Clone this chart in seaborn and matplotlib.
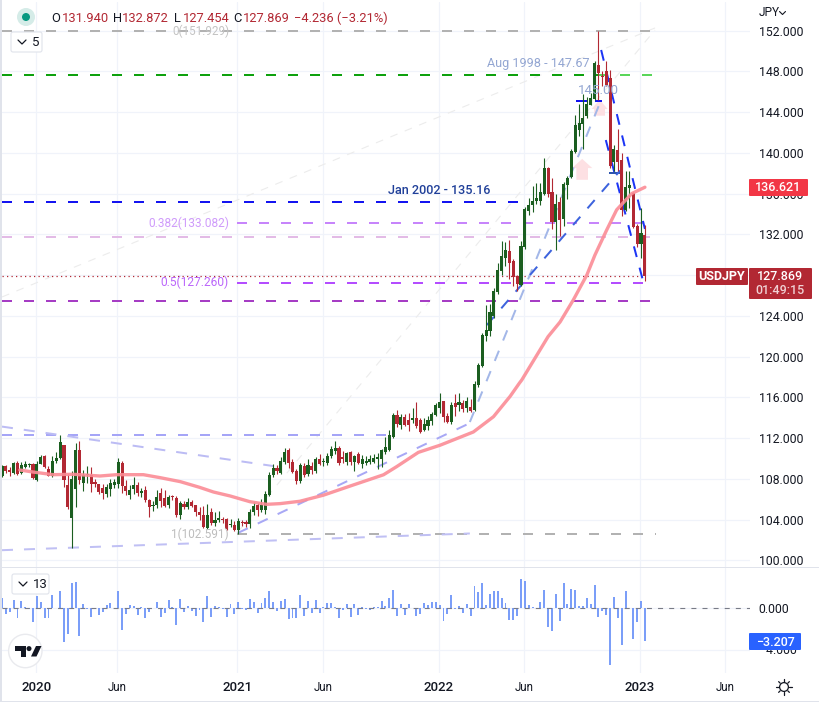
import matplotlib
matplotlib.use("Agg")
import matplotlib.pyplot as plt
from matplotlib.patches import Circle, FancyBboxPatch, Rectangle, Polygon
import numpy as np
import seaborn as sns

sns.set_theme(style="white")
plt.rcParams["font.family"] = ["Roboto", "DejaVu Sans"]

# ---- weekly USDJPY candles ----
opens = [
108.3,109.3,108.9,108.6,109.6,108.6,109.2,109.4,109.5,107.9,
109.5,110.2,109.0,108.3,109.8,110.0,111.3,107.4,104.2,107.0,
110.8,107.6,108.4,108.4,107.7,107.5,107.1,106.5,107.0,107.4,
107.5,109.6,107.3,106.4,107.0,107.4,106.6,106.9,105.9,105.3,
105.4,106.65,106.15,105.4,106.3,106.1,104.5,105.5,105.2,105.7,
105.4,104.7,104.5,103.2,104.7,103.7,104.0,104.1,104.1,103.5,
103.5,103.0,103.8,103.8,103.6,104.7,105.4,104.9,104.9,106.4,
108.4,109.1,108.6,109.7,110.8,109.7,108.8,107.8,109.3,108.5,
109.3,108.8,109.9,109.7,109.6,110.2,110.7,111.0,110.1,109.7,
110.6,109.7,110.4,109.5,109.6,109.7,109.7,109.9,109.9,110.6,
110.8,112.1,114.3,113.3,114.1,113.8,113.8,114.0,113.8,112.8,
113.2,113.7,114.3,115.0,115.6,114.2,113.6,115.4,115.2,115.4,
115.0,115.1,114.8,117.2,119.1,122.0,122.5,124.0,126.3,128.4,
129.7,130.4,129.4,127.9,127.0,130.8,134.3,134.9,135.3,135.3,
136.0,138.5,136.2,133.2,135.2,133.5,136.8,137.6,140.1,142.2,
142.8,143.6,144.7,145.3,148.6,147.5,148.0,147.3,139.1,140.3,
139.3,134.4,136.5,136.1,132.8,131.0,131.94]
highs = [
109.4,109.4,109.2,109.7,109.8,109.7,109.8,109.6,109.6,109.8,
110.3,110.3,109.3,110.2,110.6,112.3,111.3,108.5,108.8,111.5,
111.7,108.9,109.3,109.2,108.0,107.5,107.5,107.5,108.0,108.0,
110.0,109.8,107.9,107.4,108.2,107.7,107.1,107.3,106.0,105.8,
106.9,107.1,106.95,106.4,106.4,106.3,105.8,105.8,106.1,105.9,
105.4,105.2,105.3,105.5,105.1,104.7,104.8,104.3,104.2,104.1,
103.9,104.2,104.0,104.0,105.0,105.7,105.6,106.0,106.8,108.7,
109.5,109.4,110.1,111.0,111.0,109.9,109.0,109.6,109.6,109.9,
109.7,110.1,110.4,110.0,110.5,111.2,111.7,111.2,110.7,110.6,
110.7,110.3,110.6,110.3,110.2,110.3,110.4,110.5,110.9,112.1,
112.8,114.5,114.8,114.4,114.4,114.5,115.0,115.5,114.0,114.0,
114.2,114.6,115.4,116.4,115.6,114.5,115.5,116.3,116.4,115.7,
116.0,115.8,117.6,119.4,122.3,125.1,125.2,126.7,129.2,131.3,
131.2,131.4,129.6,128.0,131.3,134.7,135.6,136.7,137.0,137.0,
139.5,138.6,137.5,136.0,135.7,137.1,137.7,140.4,143.7,144.8,
145.8,145.5,145.9,149.0,151.93,148.0,149.0,148.1,140.8,142.3,
140.0,138.2,138.2,136.2,133.0,134.6,132.87]
lows = [
108.2,108.6,108.3,108.5,108.4,108.5,109.1,109.2,108.0,107.8,
109.5,109.1,108.3,108.2,109.6,109.9,107.2,105.0,101.2,105.2,
107.5,106.8,107.6,106.7,107.2,106.5,106.0,106.2,106.3,107.1,
107.1,106.6,106.4,106.0,106.5,106.3,106.2,105.7,104.3,104.8,
105.1,105.2,105.2,105.1,105.9,104.3,104.1,105.0,105.0,105.2,
104.4,104.0,103.2,103.1,103.5,103.4,103.8,103.7,103.0,103.3,
102.9,102.6,103.4,103.3,103.2,104.5,104.4,104.7,104.6,106.3,
108.2,108.5,108.5,109.5,109.1,108.6,107.5,107.6,108.2,108.3,
108.5,108.6,109.4,109.3,109.4,110.0,110.4,109.4,109.6,109.4,
109.4,108.8,109.5,109.1,109.4,109.5,109.6,109.0,109.2,110.4,
110.7,112.0,113.1,112.9,113.2,112.7,113.5,113.0,112.5,112.7,
112.8,113.3,114.2,114.5,113.6,113.5,113.4,114.2,114.7,114.6,
114.6,114.6,114.7,117.0,119.0,121.5,122.0,123.8,126.1,128.0,
128.9,127.6,126.9,126.4,126.9,130.6,133.9,134.2,135.0,134.9,
135.9,135.7,132.5,130.5,131.8,132.8,135.5,137.5,140.0,141.6,
140.4,143.4,144.7,145.2,145.2,146.6,146.6,138.5,138.2,138.2,
133.8,134.3,134.6,132.6,130.8,129.7,127.45]
closes = [
109.3,108.8,108.7,109.6,108.5,109.4,109.5,109.5,108.1,109.5,
110.1,109.2,108.3,109.8,110.0,111.6,107.9,105.2,108.0,110.8,
107.9,108.4,108.5,107.5,107.5,106.7,106.6,107.2,107.6,107.7,
109.7,107.3,106.8,106.9,107.4,106.6,106.8,105.9,105.2,105.4,
106.2,105.8,105.3,106.2,106.2,104.5,105.6,105.2,105.7,105.3,
104.7,104.5,103.3,104.5,103.7,104.0,104.2,104.0,103.1,103.6,
103.0,103.9,103.7,103.6,104.7,105.3,104.9,105.4,106.5,108.4,
109.1,108.8,109.8,110.6,109.6,108.7,107.8,109.4,108.4,109.4,
108.9,109.9,109.5,109.75,110.2,110.9,111.0,109.6,109.9,110.5,
109.7,110.2,109.6,109.9,109.8,109.9,110.0,110.1,110.8,111.1,
112.3,114.3,113.4,114.1,113.3,113.3,114.0,113.2,112.6,113.4,
113.8,114.4,115.2,115.5,114.1,113.6,115.2,115.1,115.5,114.9,
115.6,114.7,117.3,119.2,122.1,122.6,124.4,126.4,128.5,129.9,
130.5,129.2,127.8,127.1,130.9,134.5,134.9,135.3,135.6,136.2,
138.5,136.0,133.2,135.0,133.4,136.9,137.5,140.2,142.7,142.9,
143.4,144.8,145.4,148.8,147.8,147.4,146.7,138.7,140.4,139.1,
134.4,136.6,136.8,132.7,131.0,132.1,127.87]

# momentum histogram (lower pane)
momentum = [
0.97,-0.55,-0.32,0.81,-0.90,0.71,0.10,-0.06,-1.29,1.19,
0.58,-0.90,-0.90,1.29,0.03,1.68,-3.32,-2.48,2.42,2.52,
-2.65,0.39,-0.06,-0.81,-0.06,-0.65,-0.32,0.32,0.48,0.06,
1.68,-2.10,-0.55,0.32,0.19,-0.65,0.13,-0.90,-0.32,0.06,
0.58,-0.81,-0.48,0.81,0.10,-1.61,0.90,-0.32,0.26,-0.26,
-0.71,-0.13,-1.29,1.19,-0.81,0.19,0.13,-0.10,-0.81,0.39,
-0.55,0.58,-0.10,-0.19,0.90,0.58,-0.48,0.48,1.03,1.68,
0.65,-0.23,0.71,0.90,-1.03,-0.97,-0.97,1.29,-0.71,0.71,
-0.48,0.81,-0.48,0.13,0.48,0.55,0.16,-0.90,-0.16,0.39,
-0.81,0.39,-0.65,0.16,-0.06,-0.19,0.10,0.16,0.71,0.26,
0.97,1.77,-0.71,0.39,-0.65,0.39,0.06,-0.71,-0.52,0.55,
0.32,0.58,0.65,0.32,-1.23,-0.55,1.29,-0.06,0.19,-0.42,
0.39,-0.71,2.16,1.61,2.42,0.32,1.39,1.68,1.68,0.97,
0.55,-1.13,-1.13,-0.71,2.84,2.65,0.32,0.16,0.06,0.65,
1.77,-1.77,-2.19,1.39,-1.19,2.45,0.39,1.87,1.77,0.26,
0.23,1.03,0.45,2.26,-0.84,-0.23,-0.65,-5.48,1.10,-0.90,
-3.55,1.68,0.06,-2.97,-1.29,0.71,-3.207]

# moving average (week index, price)
ma_week = [4.6,8,13.2,18.4,25.3,29.6,36.5,40.8,46,51,54.6,58.9,64,68.3,71.8,76.9,83,90.7,98.5,
           101.9,107.5,113.1,121.7,126.9,131.2,133.6,134.2,141,144.1,147.5,151,153.1,156.1,158.7,162.6,166]
ma_price = [108.87,108.67,108.41,108.45,108.28,108.41,108.41,108.12,107.73,107.17,106.71,106.32,105.76,105.5,105.57,105.8,106.4,107.4,108.4,
            109.2,110.6,111.3,112.6,114.1,116.1,117.4,117.7,121.96,123.4,125.55,128.0,129.97,132.4,134.4,136.0,136.62]

price_ticks = [100,104,108,112,116,120,124,128,132,136,140,144,148,152]
time_ticks = [8.9,29.8,60.7,82.9,112.8,134.8,164.7,186.7]
time_labels = ["2020","Jun","2021","Jun","2022","Jun","2023","Jun"]
mom_ticks = [0,-4]
mom_labels = ["0.000","\u22124.000"]

# horizontal levels: price, first week, last week, colour
levels = [
    (151.929, 0, 168.6, "#b2b2b2"),
    (147.67, 0, 154, "#0ea10e"),
    (147.67, 154, 168.2, "#5ad65a"),
    (135.16, 0, 133.6, "#1414f0"),
    (133.082, 60.7, 168.6, "#c785fb"),
    (131.77, 0, 167.3, "#e3bbe6"),
    (127.26, 60.7, 168.6, "#b44dff"),
    (125.45, 0, 167.3, "#a63dc4"),
    (102.591, 60.7, 168.8, "#b2b2b2"),
    (112.3, 0, 100.2, "#a5a5f7"),
]
# trend lines: week0, price0, week1, price1, colour, width
trends = [
    (0, 113.13, 70, 109.26, "#bcbcf4", 1.44),
    (0, 101.0, 120.8, 102.64, "#c0c0f4", 1.44),
    (60.9, 102.69, 121.4, 113.58, "#a8a8f5", 1.44),
    (120.8, 113.58, 154.7, 145.18, "#a3b7e8", 1.44),
    (125.2, 123.1, 159.6, 138.26, "#3d63dd", 1.44),
    (154.7, 150.09, 166, 132.52, "#1c35f5", 1.44),
    (155.9, 141.25, 166, 126.73, "#1c35f5", 1.44),
]
faint = [(0, 125.85, 168.6, 152.25), (60.7, 102.69, 168.6, 152.05)]

weeks = np.arange(len(closes))
GRID = "#f0f3fa"
UP, DOWN = "#1b5e20", "#b22833"
W, H = 820, 702

fig = plt.figure(figsize=(W/100, H/100), dpi=100, facecolor="white")

def pane(l, t, r, b):
    return fig.add_axes([l/W, 1-b/H, (r-l)/W, (b-t)/H])

ax = pane(2, 2, 750, 567)
sub = pane(2, 568, 750, 673)
ui = fig.add_axes([0, 0, 1, 1], zorder=10)
ui.set_xlim(0, W); ui.set_ylim(H, 0); ui.axis("off"); ui.patch.set_alpha(0)

XLIM = (0, 748/3.873)

def seg(a, xs, ys, color, lw, dash, z=2):
    sns.lineplot(x=xs, y=ys, ax=a, color=color, linewidth=lw, linestyle=(0, dash),
                 estimator=None, sort=False, zorder=z, dash_capstyle="butt")

# faint guides
for w0, p0, w1, p1 in faint:
    seg(ax, [w0, w1], [p0, p1], "#ececec", 0.8, (7, 7), 1.2)

# levels
for p, w0, w1, c in levels:
    seg(ax, [w0, w1], [p, p], c, 1.44, (5, 6), 1.6)
seg(ax, [0, 166.0], [closes[-1], closes[-1]], DOWN, 0.9, (1, 2.6), 1.7)
seg(ax, [148.2, 155], [145.07, 145.07], "#1414f0", 1.44, (5.5, 4), 1.7)
seg(ax, [156.8, 162.2], [138.05, 138.05], "#2f55ad", 1.44, (5.5, 5), 1.7)

# pink arrows behind the candles
for xa, wa, ws, top, bot in [(149.8, 2.6, 1.5, 139.4, 137.35), (154.3, 2.07, 1.4, 145.2, 143.64)]:
    ax.add_patch(Polygon([(xa-wa, top-0.9), (xa, top), (xa+wa, top-0.9), (xa+ws, top-0.9),
                          (xa+ws, bot), (xa-ws, bot), (xa-ws, top-0.9)],
                         closed=True, fc="#fde0e3", ec="none", zorder=1.4))

# trend lines
for w0, p0, w1, p1, c, lw in trends:
    seg(ax, [w0, w1], [p0, p1], c, lw, (5.5, 5.5), 2.1)

# candles
o, h, l, c_ = map(np.array, (opens, highs, lows, closes))
col = np.where(c_ >= o, UP, DOWN)
ax.vlines(weeks, l, h, colors=col, linewidth=0.8, zorder=3)
ax.bar(weeks, np.maximum(np.abs(c_-o), 0.06), bottom=np.minimum(o, c_), width=0.8,
       color=col, linewidth=0, zorder=3.1)

# moving average
sns.lineplot(x=ma_week, y=ma_price, ax=ax, color="#fb8c96", linewidth=2.4, alpha=0.9,
             estimator=None, sort=False, zorder=3.4, solid_capstyle="round")

ax.set_xlim(*XLIM)
ax.set_ylim(152-(567-30.5)/10.19, 152+(30.5-2)/10.19)
ax.set_xticks(time_ticks); ax.set_xticklabels([])
ax.yaxis.tick_right()
ax.set_yticks(price_ticks)
ax.set_yticklabels([f"{t:.3f}" for t in price_ticks], fontsize=8.8, color="#131722")
ax.tick_params(axis="both", length=0, pad=6.2)
ax.set_xlabel(""); ax.set_ylabel("")
ax.grid(True, color=GRID, linewidth=0.85, zorder=0)
ax.set_axisbelow(True)
for s in ax.spines.values():
    s.set_visible(False)

# lower pane
sns.barplot(x=weeks, y=momentum, ax=sub, native_scale=True, color="#7b9ef8", saturation=1,
            width=0.5, errorbar=None, linewidth=0, zorder=3)
seg(sub, [XLIM[0], XLIM[1]], [0, 0], "#787b86", 0.8, (4.5, 5.5), 4)
sub.set_xlim(*XLIM)
sub.set_ylim(-(673-608.3)/10.3, (608.3-568)/10.3)
sub.yaxis.tick_right()
sub.set_yticks(mom_ticks)
sub.set_yticklabels(mom_labels, fontsize=8.8, color="#131722")
sub.set_xticks(time_ticks)
sub.set_xticklabels(time_labels, fontsize=8.3, color="#131722")
for t in sub.get_xticklabels():
    if t.get_text() != "Jun":
        t.set_fontsize(9.5); t.set_fontweight("medium")
sub.tick_params(axis="y", length=0, pad=6.2)
sub.tick_params(axis="x", length=0, pad=5.6)
sub.set_xlabel(""); sub.set_ylabel("")
sub.grid(True, color=GRID, linewidth=0.85, zorder=0)
sub.set_axisbelow(True)
for s in sub.spines.values():
    s.set_visible(False)

# frame
for x0, y0, w, hh in [(0, 0, 1.6, H), (0, 566.8, W, 1.4), (0, 700.5, W, 1.5), (818.8, 0, 1.2, H)]:
    ui.add_patch(Rectangle((x0, y0), w, hh, fc="#e0e3eb", ec="none"))

def txt(x, y, s, color="#131722", size=8.8, ha="left", va="center", **kw):
    ui.text(x, y, s, color=color, fontsize=size, ha=ha, va=va, **kw)

# header
ui.add_patch(Circle((26, 17), 9, fc="#d5ece8", ec="none"))
ui.add_patch(Circle((26, 17), 4, fc="#089981", ec="none"))
RED = "#b22833"
for x, s, c in [(51, "O", "#131722"), (62, "131.940", RED), (113, "H", "#131722"), (122, "132.872", RED),
                (174, "L", "#131722"), (183, "127.454", RED), (233, "C", "#131722"), (243, "127.869", RED),
                (294, "\u22124.236 (\u22123.21%)", RED)]:
    txt(x, 18, s, c, 9.3)

# collapse buttons
def button(x0, y0, x1, y1, label):
    ui.add_patch(FancyBboxPatch((x0+2, y0+2), x1-x0-4, y1-y0-4, boxstyle="round,pad=2,rounding_size=2",
                                fc="white", ec="#e0e3eb", lw=0.8))
    ui.plot([x0+7, x0+11, x0+15], [(y0+y1)/2-2, (y0+y1)/2+2, (y0+y1)/2-2], color="#131722", lw=0.9)
    txt(x0+21, (y0+y1)/2, label, "#131722", 9.5)
button(11, 32, 42, 52, "5")
button(12, 574, 49, 594, "13")

# TV logo
ui.add_patch(Circle((25.3, 651), 16.7, fc="white", ec="#e9eaee", lw=1))
ui.add_patch(Polygon([(15.5, 646), (26, 646), (26, 656.5), (20.8, 656.5), (20.8, 651), (15.5, 651)], fc="#131722", ec="none"))
ui.add_patch(Circle((29, 648.6), 2.5, fc="#131722", ec="none"))
ui.add_patch(Polygon([(31, 656.5), (36, 646), (41.5, 646), (36.5, 656.5)], fc="#131722", ec="none"))

# sun icon
ui.add_patch(Circle((784, 687), 4.4, fc="white", ec="#131722", lw=0.9))
for a in np.arange(0, 2*np.pi, np.pi/4):
    ui.plot([784+5.4*np.cos(a), 784+7.6*np.cos(a)], [687+5.4*np.sin(a), 687+7.6*np.sin(a)], color="#131722", lw=0.9)

# JPY
txt(759, 13, "JPY", "#131722", 8.6)
ui.plot([779.5, 782.5, 785.5], [11.5, 14.5, 11.5], color="#131722", lw=0.8)

# drawing labels
txt(172, 31, "0(151.929)", "#c3c3c3", 8.4)
txt(487, 63, "Aug 1998 - 147.67", "#93a6d2", 9.1)
txt(578, 91, "145.00", "#93a6d2", 9.6)
txt(388, 190, "Jan 2002 - 135.16", "#1f3f99", 9.1, fontweight="medium")
txt(229, 223, "0.382(133.082)", "#cf9bfb", 8.6, ha="right")
txt(229, 282.5, "0.5(127.260)", "#bb66fb", 8.65, ha="right")
txt(229, 534, "1(102.591)", "#bdbdbd", 8.5, ha="right")

# price tags
def tag(x0, y0, x1, y1, color):
    ui.add_patch(FancyBboxPatch((x0+1, y0+1), x1-x0-2, y1-y0-2, boxstyle="round,pad=1,rounding_size=1",
                                fc=color, ec="none"))
tag(696, 268, 748, 285, "#b22833")
txt(722, 276.5, "USDJPY", "white", 9, ha="center", fontweight="bold")
tag(749, 268, 812, 299, "#b22833")
txt(780.5, 277, "127.869", "white", 9, ha="center", fontweight="medium")
txt(780.5, 290, "01:49:15", "#f0d0d3", 9, ha="center", fontweight="medium")
tag(749, 179, 808, 196, "#f23645")
txt(778.5, 187.5, "136.621", "white", 9, ha="center", fontweight="medium")
tag(749, 633, 801, 650, "#2962ff")
txt(775, 642, "\u22123.207", "white", 9, ha="center", fontweight="medium")

fig.savefig("out.png", dpi=100)
